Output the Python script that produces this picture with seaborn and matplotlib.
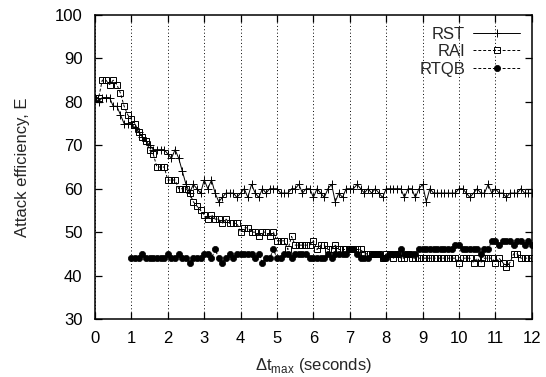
import numpy as np
import pandas as pd
import matplotlib
matplotlib.use("Agg")
import matplotlib.pyplot as plt
import seaborn as sns

# ---- data ----
t_full = [round(i * 0.1, 1) for i in range(121)]
t_rtqb = [round(1.0 + i * 0.1, 1) for i in range(111)]

rst = [81, 80, 81, 81, 81, 79, 79, 77, 75, 75,
       75, 74, 73, 72, 71, 70, 69, 69, 69, 69,
       68, 67, 69, 67, 64, 61, 59, 61, 60, 59,
       62, 60, 62, 59, 57, 58, 59, 59, 59, 58,
       59, 60, 58, 61, 59, 58, 60, 59, 60, 60,
       60, 59, 59, 59, 60, 60, 61, 59, 60, 60,
       58, 60, 59, 58, 60, 61, 57, 59, 58, 60,
       60, 60, 61, 60, 59, 60, 59, 60, 59, 58,
       60, 60, 60, 60, 60, 58, 60, 60, 58, 60,
       61, 57, 60, 59, 59, 59, 59, 59, 59, 59,
       60, 60, 59, 58, 59, 60, 59, 59, 61, 59,
       60, 59, 59, 58, 59, 59, 59, 60, 59, 59, 59]

rai = [81, 81, 85, 85, 84, 85, 84, 82, 79, 77,
       76, 75, 73, 72, 71, 69, 68, 65, 65, 65,
       62, 62, 62, 60, 60, 60, 59, 57, 56, 55,
       54, 53, 54, 53, 53, 52, 53, 52, 52, 52,
       50, 51, 51, 50, 50, 49, 50, 50, 49, 50,
       48, 48, 48, 46, 49, 47, 47, 47, 47, 47,
       48, 46, 47, 47, 46, 46, 47, 46, 46, 46,
       46, 46, 46, 46, 45, 45, 45, 45, 45, 44,
       45, 45, 44, 45, 44, 44, 45, 44, 44, 44,
       44, 44, 44, 44, 44, 44, 44, 44, 44, 44,
       43, 44, 44, 44, 43, 44, 43, 44, 44, 44,
       43, 44, 43, 42, 43, 45, 45, 44, 44, 44, 44]

rtqb = [44, 44, 44, 45, 44, 44, 44, 44, 44, 44,
        45, 44, 44, 45, 44, 44, 43, 44, 44, 44,
        45, 45, 44, 46, 44, 43, 44, 45, 44, 45,
        45, 45, 45, 45, 44, 45, 43, 44, 44, 46,
        44, 44, 45, 45, 44, 45, 45, 45, 45, 44,
        44, 44, 44, 44, 45, 44, 45, 45, 45, 45,
        46, 46, 45, 44, 44, 44, 45, 45, 45, 44,
        44, 45, 45, 45, 46, 45, 45, 45, 45, 46,
        46, 46, 46, 46, 46, 46, 46, 46, 46, 47,
        47, 46, 46, 46, 46, 46, 45, 46, 46, 48,
        48, 47, 48, 48, 48, 47, 48, 48, 47, 48,
        47]

x_ticks = list(range(0, 13))
y_ticks = [30, 40, 50, 60, 70, 80, 90, 100]

# ---- style ----
sns.set_style("ticks")
plt.rcParams["font.family"] = ["Liberation Sans", "DejaVu Sans"]
plt.rcParams["mathtext.fontset"] = "custom"
plt.rcParams["mathtext.rm"] = "Liberation Sans"

fig = plt.figure(figsize=(5.46, 3.77), dpi=100)
ax = fig.add_axes([0.174, 0.154, 0.800, 0.806])

sns.lineplot(x=t_full, y=rst, ax=ax, color="black", linewidth=0.7,
             marker="+", markersize=6, markeredgecolor="black",
             markeredgewidth=0.7, label="RST")
sns.lineplot(x=t_full, y=rai, ax=ax, color="black", linewidth=0.7,
             linestyle=(0, (3, 2)), marker="s", markersize=5,
             markerfacecolor="none", markeredgecolor="black",
             markeredgewidth=0.7, label="RAI")
sns.lineplot(x=t_rtqb, y=rtqb, ax=ax, color="black", linewidth=0.7,
             linestyle=(0, (3, 2)), marker="o", markersize=4.5,
             markerfacecolor="black", markeredgecolor="black",
             markeredgewidth=0.5, label="RTQB")

ax.set_xlim(0, 12)
ax.set_ylim(30, 100)
ax.set_xticks(x_ticks)
ax.set_yticks(y_ticks)
ax.xaxis.grid(True, linestyle=(0, (1, 2.5)), color="black", linewidth=0.7)
ax.yaxis.grid(False)

for s in ax.spines.values():
    s.set_visible(True)
    s.set_linewidth(1.1)
    s.set_color("black")

ax.tick_params(direction="in", length=5, width=0.9, top=True, right=True,
               labelsize=12, colors="black", pad=9)

ax.set_xlabel(r"Δt$_\mathregular{max}$ (seconds)", fontsize=12, labelpad=7)
ax.set_ylabel("Attack efficiency, E", fontsize=12, labelpad=18)

ax.legend(loc="upper right", frameon=False, markerfirst=False,
          fontsize=12, handlelength=2.8, handletextpad=0.5,
          labelspacing=0.15, borderaxespad=0.3, numpoints=1)

fig.savefig("out.png", dpi=100)
